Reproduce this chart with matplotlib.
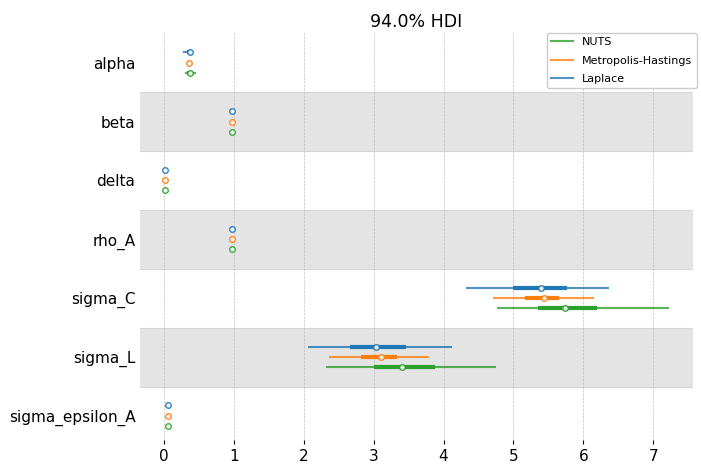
import numpy as np
import matplotlib.pyplot as plt
from matplotlib.lines import Line2D

params = ["alpha", "beta", "delta", "rho_A", "sigma_C", "sigma_L", "sigma_epsilon_A"]
models = ["Laplace", "Metropolis-Hastings", "NUTS"]
colors = ["#1f77b4", "#ff7f0e", "#2ca02c"]

# per model: median, hdi 94% low/high, iqr low/high (one entry per param)
median = {
    "Laplace":             [0.37, 0.97, 0.025, 0.97, 5.40, 3.04, 0.06],
    "Metropolis-Hastings": [0.36, 0.97, 0.025, 0.97, 5.43, 3.10, 0.06],
    "NUTS":                [0.38, 0.97, 0.025, 0.97, 5.74, 3.41, 0.06],
}
hdi_lo = {
    "Laplace":             [0.28, 0.96, 0.02, 0.96, 4.32, 2.06, 0.05],
    "Metropolis-Hastings": [0.33, 0.96, 0.02, 0.96, 4.70, 2.36, 0.05],
    "NUTS":                [0.31, 0.96, 0.02, 0.96, 4.76, 2.32, 0.05],
}
hdi_hi = {
    "Laplace":             [0.42, 0.98, 0.03, 0.98, 6.36, 4.12, 0.07],
    "Metropolis-Hastings": [0.40, 0.98, 0.03, 0.98, 6.15, 3.79, 0.07],
    "NUTS":                [0.46, 0.98, 0.03, 0.98, 7.22, 4.75, 0.07],
}
iqr_lo = {
    "Laplace":             [0.33, 0.965, 0.022, 0.965, 5.00, 2.67, 0.055],
    "Metropolis-Hastings": [0.34, 0.965, 0.022, 0.965, 5.16, 2.82, 0.055],
    "NUTS":                [0.34, 0.965, 0.022, 0.965, 5.35, 3.00, 0.055],
}
iqr_hi = {
    "Laplace":             [0.41, 0.975, 0.028, 0.975, 5.77, 3.46, 0.065],
    "Metropolis-Hastings": [0.38, 0.975, 0.028, 0.975, 5.65, 3.33, 0.065],
    "NUTS":                [0.42, 0.975, 0.028, 0.975, 6.19, 3.88, 0.065],
}

offsets = [0.18, 0.0, -0.17]
n = len(params)
centers = np.arange(n)[::-1]

fig, ax = plt.subplots(figsize=(7.01, 4.70), dpi=100)
fig.subplots_adjust(left=0.2, right=0.988, top=0.93, bottom=0.064)

for i, c in enumerate(centers):
    if i % 2 == 1:
        ax.axhspan(c - 0.5, c + 0.5, color="#e4e4e4", zorder=0, lw=0)
        ax.axhline(c + 0.5, color="#d6d6d6", lw=0.8, zorder=0)
        ax.axhline(c - 0.5, color="#d6d6d6", lw=0.8, zorder=0)

for m, col, off in zip(models, colors, offsets):
    for i, c in enumerate(centers):
        y = c + off
        ax.plot([hdi_lo[m][i], hdi_hi[m][i]], [y, y], color=col, lw=1.5, alpha=0.8,
                solid_capstyle="butt", zorder=2)
        ax.plot([iqr_lo[m][i], iqr_hi[m][i]], [y, y], color=col, lw=3,
                solid_capstyle="butt", zorder=3)
        ax.plot(median[m][i], y, "o", mfc="white", mec=col, mew=1.0, ms=4, zorder=4, alpha=0.9)

ax.set_yticks(centers)
ax.set_yticklabels(params, fontsize=11)
ax.tick_params(axis="y", length=0)
ax.tick_params(axis="x", labelsize=11, length=3, pad=3.5)
ax.set_xticks(range(0, 8))
ax.set_xlim(-0.336, 7.56)
ax.set_ylim(-0.405, 6.505)
ax.grid(axis="x", ls="--", color="#bdbdbd", lw=0.5)
ax.set_axisbelow(True)
for s in ax.spines.values():
    s.set_visible(False)
ax.set_title("94.0% HDI", fontsize=12.5, pad=4)

handles = [Line2D([], [], color=col, lw=1.5, alpha=0.8) for col in colors[::-1]]
ax.legend(handles, models[::-1], loc="upper right", fontsize=8, framealpha=1,
          bbox_to_anchor=(1.008, 1.0), borderaxespad=0, labelspacing=0.75)

fig.savefig("out.png")
